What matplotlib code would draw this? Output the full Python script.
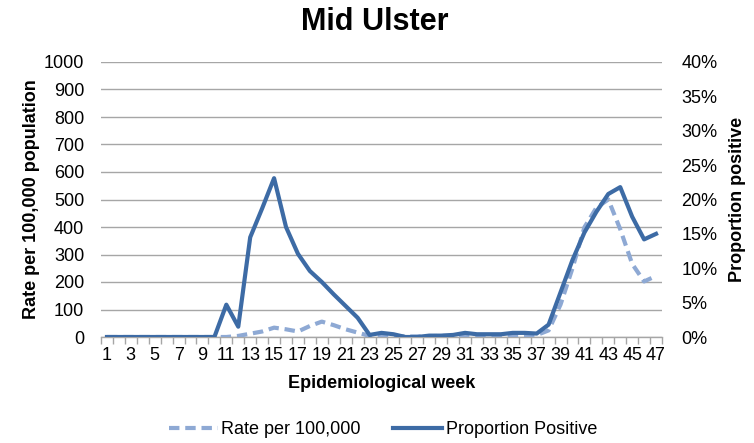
import matplotlib
matplotlib.use("Agg")
import matplotlib.pyplot as plt
from matplotlib.ticker import FuncFormatter, FixedLocator

plt.rcParams['font.family'] = ['Liberation Sans', 'DejaVu Sans']

weeks = list(range(1, 48))
rate_per_100k = [0, 0, 0, 0, 0, 0, 0, 0, 0, 0,
                 0, 4, 12, 20, 34, 28, 20, 40, 56, 43,
                 28, 16, 4, 3, 3, 2, 2, 3, 4, 4,
                 5, 4, 4, 4, 5, 5, 7, 24, 118, 250,
                 399, 470, 500, 392, 266, 202, 222]
proportion_positive = [0, 0, 0, 0, 0, 0, 0, 0, 0, 0,
                       4.7, 1.5, 14.5, 18.7, 23.1, 16.0, 12.1, 9.6, 8.0, 6.2,
                       4.5, 2.8, 0.3, 0.6, 0.4, 0.0, 0.0, 0.2, 0.2, 0.3,
                       0.6, 0.4, 0.4, 0.4, 0.6, 0.6, 0.5, 1.8, 6.5, 11.2,
                       15.2, 18.2, 20.8, 21.8, 17.5, 14.2, 15.0]

title = "Mid Ulster"
xlabel = "Epidemiological week"
ylabel_left = "Rate per 100,000 population"
ylabel_right = "Proportion positive"
label_rate = "Rate per 100,000"
label_prop = "Proportion Positive"

c_rate = '#8EA9D4'
c_prop = '#3D6BA5'
grid_c = '#A6A6A6'
fs = 13

fig = plt.figure(figsize=(7.54, 4.43), dpi=100)
ax = fig.add_axes([101/754, 1-337/443, (662-101)/754, (337-62)/443])
ax2 = ax.twinx()

l1, = ax.plot(weeks, rate_per_100k, color=c_rate, lw=3, ls=(0, (2.5, 1.4)), zorder=3)
l2, = ax2.plot(weeks, proportion_positive, color=c_prop, lw=3, zorder=3)

ax.set_xlim(0.5, 47.5)
ax.set_ylim(0, 1000)
ax2.set_ylim(0, 40)
ax.set_yticks(range(0, 1001, 100))
ax2.set_yticks(range(0, 41, 5))
ax2.yaxis.set_major_formatter(FuncFormatter(lambda v, p: f"{int(v)}%"))

ax.set_xticks([w for w in weeks if w % 2 == 1])
ax.set_xticklabels([str(w) for w in weeks if w % 2 == 1])
ax.xaxis.set_minor_locator(FixedLocator([w + 0.5 for w in range(0, 48)]))
ax.tick_params(axis='x', which='major', length=0, pad=7, labelsize=fs)
ax.tick_params(axis='x', which='minor', length=5, color=grid_c, width=1)
ax.tick_params(axis='y', length=0, labelsize=fs, pad=12)
ax2.tick_params(axis='y', length=0, labelsize=fs, pad=14)

for a in (ax, ax2):
    for s in ('top', 'left', 'right', 'bottom'):
        a.spines[s].set_visible(False)
ax.spines['bottom'].set_visible(True)
ax.spines['bottom'].set_color(grid_c)
ax.spines['bottom'].set_linewidth(1)

ax.yaxis.grid(True, color=grid_c, lw=1)
ax.set_axisbelow(True)

ax.set_xlabel(xlabel, fontsize=fs, fontweight='bold', labelpad=8)
ax.set_ylabel(ylabel_left, fontsize=fs, fontweight='bold', labelpad=3)
ax2.set_ylabel(ylabel_right, fontsize=fs, fontweight='bold', labelpad=8)

fig.text(375/754, 1-22/443, title, ha='center', va='center', fontsize=22, fontweight='bold')

fig.legend([l1, l2], [label_rate, label_prop], loc='center', bbox_to_anchor=(383/754, 1-430/443),
           ncol=2, frameon=False, fontsize=fs, handlelength=2.7, columnspacing=1.8, handletextpad=0.2)

fig.savefig("out.png", dpi=100)
